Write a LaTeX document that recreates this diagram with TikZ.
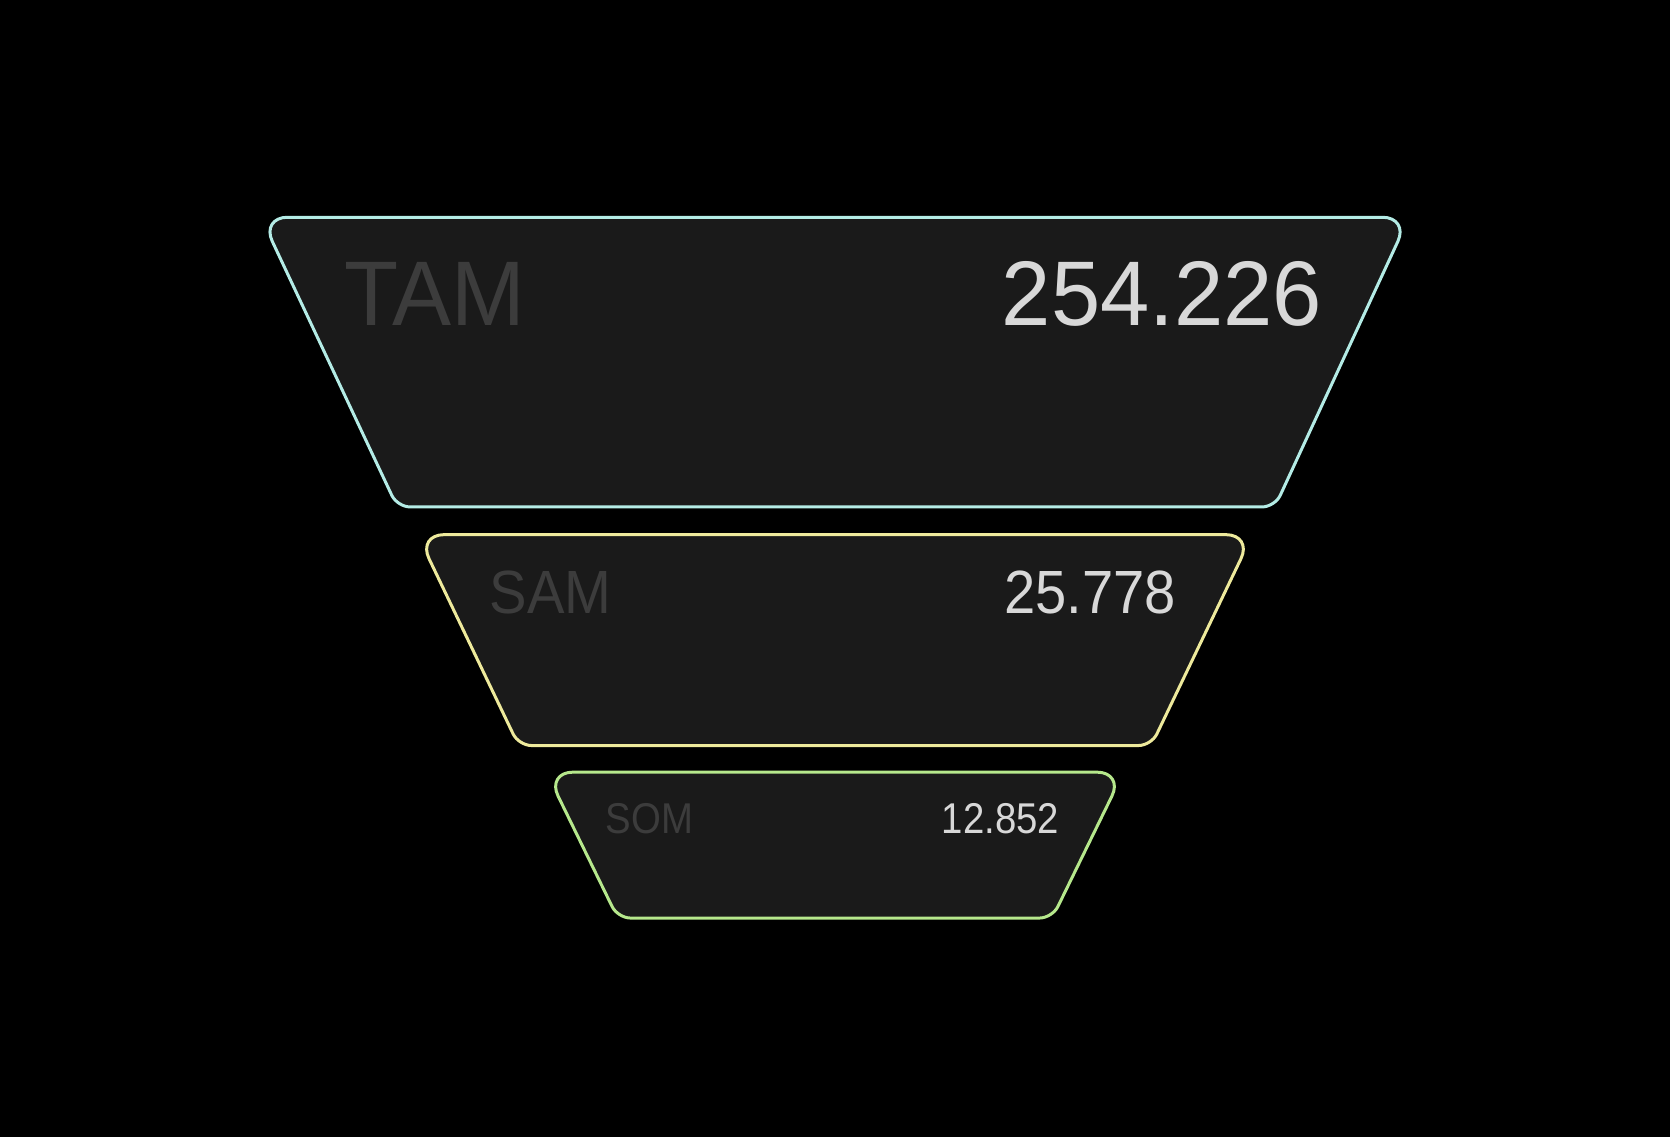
\documentclass[tikz,border=0pt]{standalone}
\usepackage{fontspec}
\setmainfont{Liberation Sans}
\definecolor{tamline}{HTML}{B4ECE6}
\definecolor{samline}{HTML}{EEEA9C}
\definecolor{somline}{HTML}{B6E88C}
\definecolor{boxfill}{HTML}{1A1A1A}
\definecolor{labelgray}{HTML}{3C3C3C}
\definecolor{valuegray}{HTML}{D8D8D8}
\begin{document}
\begin{tikzpicture}[x=0.01cm, y=-0.01cm,
    level/.style={fill=boxfill, line width=0.8pt, rounded corners=0.25cm},
    label/.style={inner sep=0pt, text=labelgray, anchor=base west},
    value/.style={inner sep=0pt, text=valuegray, anchor=base east},
    tamtext/.style={font=\fontsize{24.5}{30}\selectfont, xscale=0.965},
    samtext/.style={font=\fontsize{16.3}{20}\selectfont, xscale=0.92},
    somtext/.style={font=\fontsize{11.5}{14}\selectfont, xscale=0.89}]

    % background
    \fill[black] (0,0) rectangle (1568,1068);
    \useasboundingbox (0,0) rectangle (1568,1068);

    % funnel levels
    \draw[level, draw=tamline] (784,204) -- (1323,204) [rounded corners=0.12cm] -- (1197,476) -- (373,476) [rounded corners=0.25cm] -- (245,204) -- cycle;
    \draw[level, draw=samline] (784,502) -- (1176,502) [rounded corners=0.12cm] -- (1081,700) -- (487,700) [rounded corners=0.25cm] -- (392,502) -- cycle;
    \draw[level, draw=somline] (784,725) -- (1055,725) [rounded corners=0.12cm] -- (988,862) -- (580,862) [rounded corners=0.25cm] -- (513,725) -- cycle;

    % texts
    \node[label, tamtext] (tam) at (323,306) {TAM};
    \node[value, tamtext] (tamval) at (1242,306) {254.226};

    \node[label, samtext] (sam) at (459,576) {SAM};
    \node[value, samtext] (samval) at (1105,576) {25.778};

    \node[label, somtext] (som) at (568,783) {SOM};
    \node[value, somtext] (somval) at (995,783) {12.852};

\end{tikzpicture}
\end{document}
